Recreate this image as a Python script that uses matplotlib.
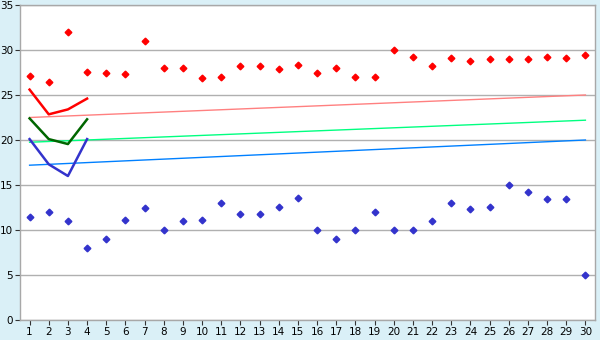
import numpy as np
import matplotlib
matplotlib.use("Agg")
import matplotlib.pyplot as plt

# data
days = np.arange(1, 31)
red_pts = [27.1, 26.5, 32.0, 27.6, 27.4, 27.3, 31.0, 28.0, 28.0, 26.85,
           27.0, 28.2, 28.2, 27.85, 28.3, 27.4, 28.05, 27.0, 27.0, 30.0,
           29.2, 28.2, 29.1, 28.75, 29.0, 29.0, 29.0, 29.2, 29.1, 29.5]
blue_pts = [11.5, 12.0, 11.0, 8.0, 9.0, 11.1, 12.4, 10.0, 11.0, 11.1,
            13.0, 11.75, 11.75, 12.6, 13.6, 10.0, 9.0, 10.0, 12.0, 10.0,
            10.0, 11.0, 13.0, 12.3, 12.6, 15.0, 14.2, 13.5, 13.5, 5.0]

first_days = [1, 2, 3, 4]
red_line = [25.6, 22.85, 23.4, 24.6]
green_line = [22.4, 20.1, 19.55, 22.3]
blue_line = [20.1, 17.3, 16.0, 20.1]

trend_x = [1, 30]
red_trend = [22.5, 25.0]
green_trend = [19.75, 22.2]
blue_trend = [17.2, 20.0]

bg = "#daf0f7"
fig = plt.figure(figsize=(6, 3.4), dpi=100, facecolor=bg)
ax = fig.add_axes([20/600, 20/340, 575/600, 315/340])
ax.set_facecolor("white")

# trend lines
ax.plot(trend_x, red_trend, color="#ff8080", lw=1)
ax.plot(trend_x, green_trend, color="#00ff80", lw=1)
ax.plot(trend_x, blue_trend, color="#0080ff", lw=1)

# first four days
ax.plot(first_days, red_line, color="#ff0000", lw=1.8)
ax.plot(first_days, green_line, color="#006600", lw=1.8)
ax.plot(first_days, blue_line, color="#3333cc", lw=1.8)

# scatter points
ax.plot(days, red_pts, ls="none", marker="D", ms=3.4, color="#ff0000")
ax.plot(days, blue_pts, ls="none", marker="D", ms=3.4, color="#3333cc")

ax.set_xlim(0.5, 30.5)
ax.set_ylim(0, 35)
ax.set_xticks(days)
ax.set_yticks(np.arange(0, 36, 5))
ax.yaxis.grid(True, color="#b0b0b0", lw=1)
ax.set_axisbelow(True)
for s in ax.spines.values():
    s.set_color("#a8a8a8")
    s.set_linewidth(1)
ax.tick_params(axis="both", labelsize=7.5, length=3.5, color="#333333", pad=1.5)

fig.savefig("out.png", dpi=100, facecolor=bg)
